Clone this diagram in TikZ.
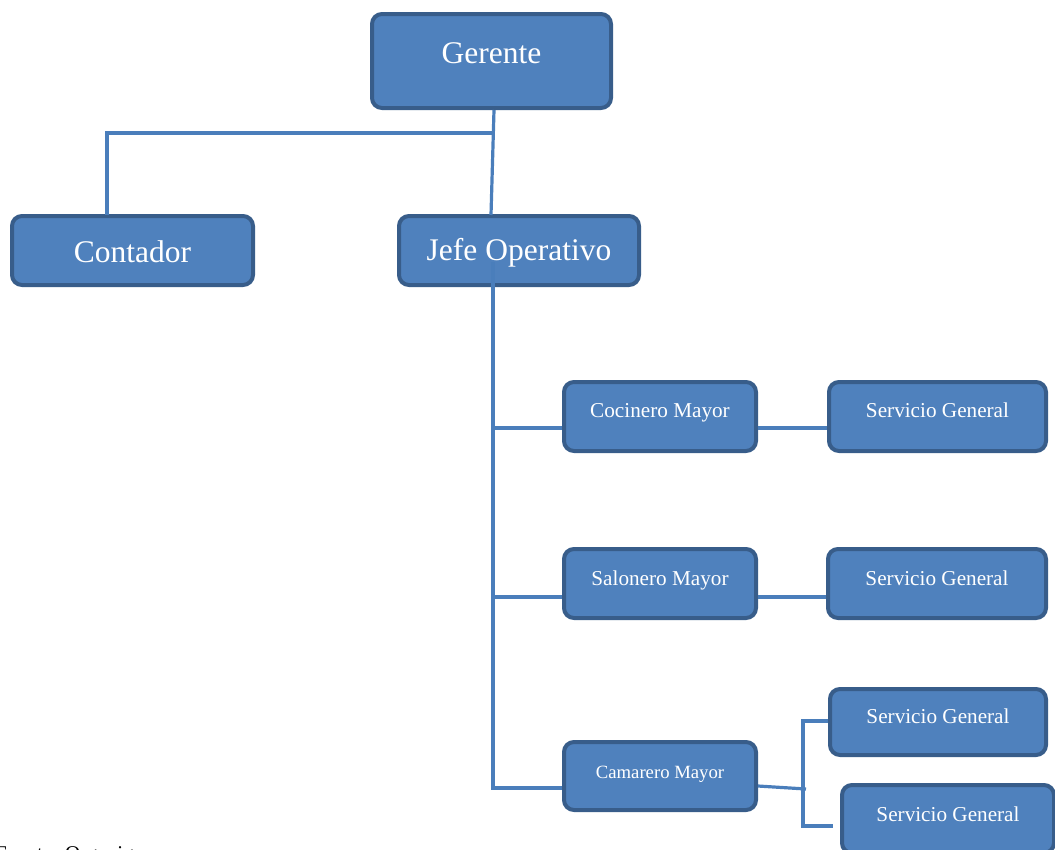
\documentclass[tikz,border=0pt]{standalone}
\usepackage{fontspec}
\setmainfont{Liberation Serif}
\definecolor{boxfill}{HTML}{4F81BD}
\definecolor{boxline}{HTML}{385D8A}
\definecolor{conncol}{HTML}{4A7EBB}
\newcommand\orgtxt[2]{\raisebox{#1}[0pt][0pt]{#2}}
\begin{document}
\begin{tikzpicture}[x=1pt,y=-1pt,
  orgbox/.style={draw=boxline, fill=boxfill, line width=4pt, rounded corners=10pt,
    text=white, inner sep=0pt, anchor=center},
  bigtxt/.style={font=\fontsize{31.5}{36}\selectfont},
  smalltxt/.style={font=\fontsize{21.2}{25}\selectfont},
  conn/.style={draw=conncol, line width=3.2pt}]
\clip (0,0) rectangle (1055,849);

\node[orgbox, bigtxt, minimum width=239pt, minimum height=94pt] (ger) at (491.5,61) {\orgtxt{-2pt}{Gerente}};
\node[orgbox, bigtxt, minimum width=241pt, minimum height=69pt] (cont) at (132.5,250.5) {\orgtxt{-11.5pt}{Contador}};
\node[orgbox, bigtxt, minimum width=240pt, minimum height=69pt] (jefe) at (519,250.5) {\orgtxt{-9.5pt}{Jefe Operativo}};

\node[orgbox, smalltxt, minimum width=192pt, minimum height=69pt] (coc) at (660,416.5) {\orgtxt{-0.5pt}{Cocinero Mayor}};
\node[orgbox, smalltxt, minimum width=217pt, minimum height=69pt] (sg1) at (937.5,416.5) {\orgtxt{-0.5pt}{Servicio General}};
\node[orgbox, smalltxt, minimum width=192pt, minimum height=69pt] (sal) at (660,583.5) {\orgtxt{-1.5pt}{Salonero Mayor}};
\node[orgbox, smalltxt, minimum width=218pt, minimum height=69pt] (sg2) at (937,583.5) {\orgtxt{-1.5pt}{Servicio General}};
\node[orgbox, font=\fontsize{18.7}{22}\selectfont, minimum width=192pt, minimum height=68pt] (cam) at (660,776) {\orgtxt{-2pt}{Camarero Mayor}};
\node[orgbox, smalltxt, minimum width=216pt, minimum height=66pt] (sg3) at (938,722) {\orgtxt{-1pt}{Servicio General}};
\node[orgbox, smalltxt, minimum width=212pt, minimum height=68pt] (sg4) at (948,819) {\orgtxt{-2pt}{Servicio General}};

\node[anchor=base west, inner sep=0pt, font=\fontsize{21}{24}\selectfont] (src) at (-5,860) {Fuente: Organigrama};

% connectors
\coordinate (gbot) at (494,110);
\coordinate (jtop) at (491,215);
\coordinate (gsplit) at (493.5,133);
\coordinate (ctop) at (107,215);
\draw[conn] (gbot) -- (jtop);
\draw[conn] (gsplit) -| (ctop);

\coordinate (jsp) at (493,262);
\coordinate (jend) at (493,788);
\coordinate (b1) at (493,428);
\coordinate (b2) at (493,597);
\draw[conn] (jsp) -- (jend) -- (jend -| cam.west);
\draw[conn] (b1) -- (b1 -| coc.west);
\draw[conn] (b2) -- (b2 -| sal.west);
\draw[conn] (b1 -| coc.east) -- (b1 -| sg1.west);
\draw[conn] (b2 -| sal.east) -- (b2 -| sg2.west);

\coordinate (camout) at (758,786);
\coordinate (fork) at (806,789);
\coordinate (ftop) at (803,721);
\coordinate (fbot) at (803,826);
\coordinate (fend) at (833,826);
\draw[conn] (camout) -- (fork);
\draw[conn] (ftop -| sg3.west) -- (ftop) -- (fbot) -- (fend);
\end{tikzpicture}
\end{document}
